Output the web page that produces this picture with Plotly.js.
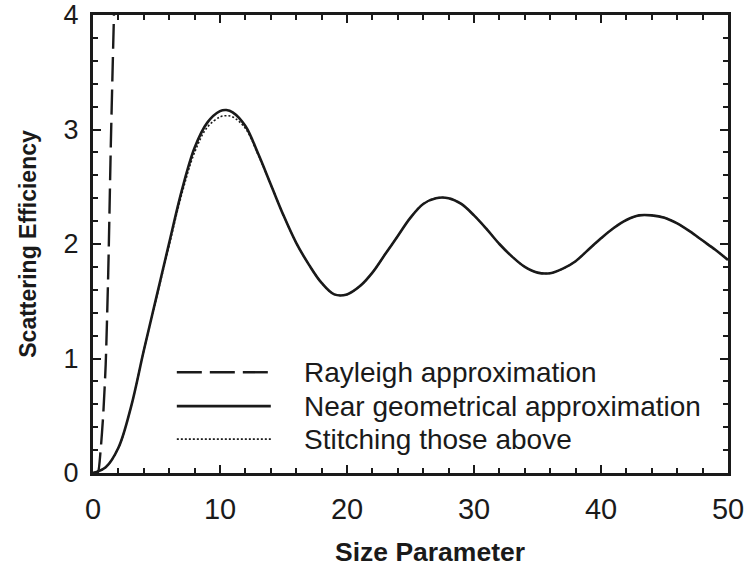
<!DOCTYPE html>
<html>
<head>
<meta charset="utf-8">
<script src="https://cdn.plot.ly/plotly-3.0.1.min.js"></script>
<style>html,body{margin:0;padding:0;background:#fff;}#chart{width:749px;height:578px;}</style>
</head>
<body>
<div id="chart"></div>
<script>
// Rayleigh approximation (dashed)
const rayleighX = [0, 0.2, 0.4, 0.6, 0.8, 1.0, 1.2, 1.4, 1.55, 1.65];
const rayleighY = [0, 0, 0.01, 0.2, 0.5, 0.95, 1.75, 2.85, 3.55, 4.0];

// Near geometrical approximation (solid)
const geomX = [0, 1, 2, 3, 4, 5, 6, 7, 8, 9, 10, 10.5, 11, 12, 13, 14, 15, 16, 17, 18, 19, 20,
  21, 22, 23, 24, 25, 26, 27, 28, 29, 30, 31, 32, 33, 34, 35, 36, 37, 38, 39, 40,
  41, 42, 43, 44, 45, 46, 47, 48, 49, 50];
const geomY = [0, 0.05, 0.22, 0.58, 1.07, 1.54, 2.01, 2.47, 2.84, 3.06, 3.16, 3.17, 3.15, 3.03, 2.79, 2.52, 2.25, 2.01, 1.82, 1.66, 1.56, 1.56,
  1.63, 1.75, 1.91, 2.07, 2.23, 2.35, 2.40, 2.40, 2.35, 2.25, 2.13, 2.00, 1.89, 1.80, 1.75, 1.745, 1.785, 1.85, 1.95, 2.05,
  2.14, 2.21, 2.25, 2.25, 2.23, 2.18, 2.11, 2.03, 1.95, 1.86];

// Stitching those above (dotted)
const stitchX = geomX;
const stitchY = [0, 0.05, 0.22, 0.58, 1.07, 1.53, 1.99, 2.44, 2.80, 3.02, 3.11, 3.12, 3.11, 3.01, 2.78, 2.52, 2.25, 2.01, 1.82, 1.66, 1.56, 1.56,
  1.63, 1.75, 1.91, 2.07, 2.23, 2.35, 2.40, 2.40, 2.35, 2.25, 2.13, 2.00, 1.89, 1.80, 1.75, 1.745, 1.785, 1.85, 1.95, 2.05,
  2.14, 2.21, 2.25, 2.25, 2.23, 2.18, 2.11, 2.03, 1.95, 1.86];

const seriesNames = ["Rayleigh approximation", "Near geometrical approximation", "Stitching those above"];
const xTitle = "Size Parameter";
const yTitle = "Scattering Efficiency";
const xRange = [0, 50];
const yRange = [0, 4];

const FONT = "Liberation Sans, Arial, Helvetica, sans-serif";
const ink = "#1a1a1a";
const clear = "rgba(0,0,0,0)";

const traces = [
  {x: stitchX, y: stitchY, mode: "lines", name: seriesNames[2], xaxis: "x2", yaxis: "y2",
   line: {color: ink, width: 1.6, dash: "2px,2px", shape: "spline", smoothing: 1}},
  {x: geomX, y: geomY, mode: "lines", name: seriesNames[1],
   line: {color: ink, width: 2.6, shape: "spline", smoothing: 1}},
  {x: rayleighX, y: rayleighY, mode: "lines", name: seriesNames[0],
   line: {color: ink, width: 2.4, dash: "25px,8px", shape: "spline", smoothing: 0.6}}
];

// custom legend (line samples + labels), paper coords of the plot area
const legRows = [0.220, 0.146, 0.074];
const legDash = ["25px,8px", "solid", "2px,2px"];
const legWidth = [2.4, 2.6, 1.6];
const shapes = [];
const annotations = [];
for (let i = 0; i < 3; i++) {
  shapes.push({type: "line", xref: "paper", yref: "paper", x0: 0.132, x1: 0.28, y0: legRows[i], y1: legRows[i],
    line: {color: ink, width: legWidth[i], dash: legDash[i]}});
  annotations.push({xref: "paper", yref: "paper", x: 0.329, y: legRows[i], xanchor: "left", yanchor: "middle",
    text: seriesNames[i], showarrow: false, font: {family: FONT, size: 28, color: ink}});
}
annotations.push({xref: "paper", yref: "paper", x: 0.531, y: -0.172, xanchor: "center", yanchor: "middle",
  text: xTitle, showarrow: false, font: {family: FONT, size: 26.5, color: ink, weight: "bold"}});

const layout = {
  width: 749, height: 578,
  margin: {l: 93, r: 21, t: 15, b: 105},
  showlegend: false,
  // main axes: frame and inside ticks
  xaxis: {
    range: xRange, dtick: 10, tick0: 0,
    showline: true, linewidth: 2.5, linecolor: ink, mirror: "ticks",
    ticks: "inside", ticklen: 8.5, tickwidth: 2, tickcolor: ink,
    minor: {dtick: 2, ticks: "inside", ticklen: 5.5, tickwidth: 1.6, tickcolor: ink},
    showgrid: false, zeroline: false, showticklabels: false
  },
  yaxis: {
    range: yRange, dtick: 1, tick0: 0,
    showline: true, linewidth: 2.5, linecolor: ink, mirror: "ticks",
    ticks: "inside", ticklen: 8.5, tickwidth: 2, tickcolor: ink,
    minor: {dtick: 0.2, ticks: "inside", ticklen: 5.5, tickwidth: 1.6, tickcolor: ink},
    showgrid: false, zeroline: false, showticklabels: false
  },
  // overlaid axes carrying the tick labels, pushed outward by clear outside ticks
  xaxis2: {
    overlaying: "x", anchor: "y2", side: "bottom",
    range: xRange, dtick: 10, tick0: 0,
    showline: false, showgrid: false, zeroline: false,
    ticks: "outside", ticklen: 10, tickcolor: clear,
    tickfont: {family: FONT, size: 29, color: ink}
  },
  yaxis2: {
    overlaying: "y", anchor: "x2", side: "left",
    range: yRange, dtick: 1, tick0: 0,
    showline: false, showgrid: false, zeroline: false,
    ticks: "outside", ticklen: 8, tickcolor: clear,
    tickfont: {family: FONT, size: 27, color: ink},
    title: {text: yTitle, font: {family: FONT, size: 23, color: ink, weight: "bold"}, standoff: 20}
  },
  shapes: shapes,
  annotations: annotations
};

Plotly.newPlot("chart", traces, layout, {displayModeBar: false});
</script>
</body>
</html>
